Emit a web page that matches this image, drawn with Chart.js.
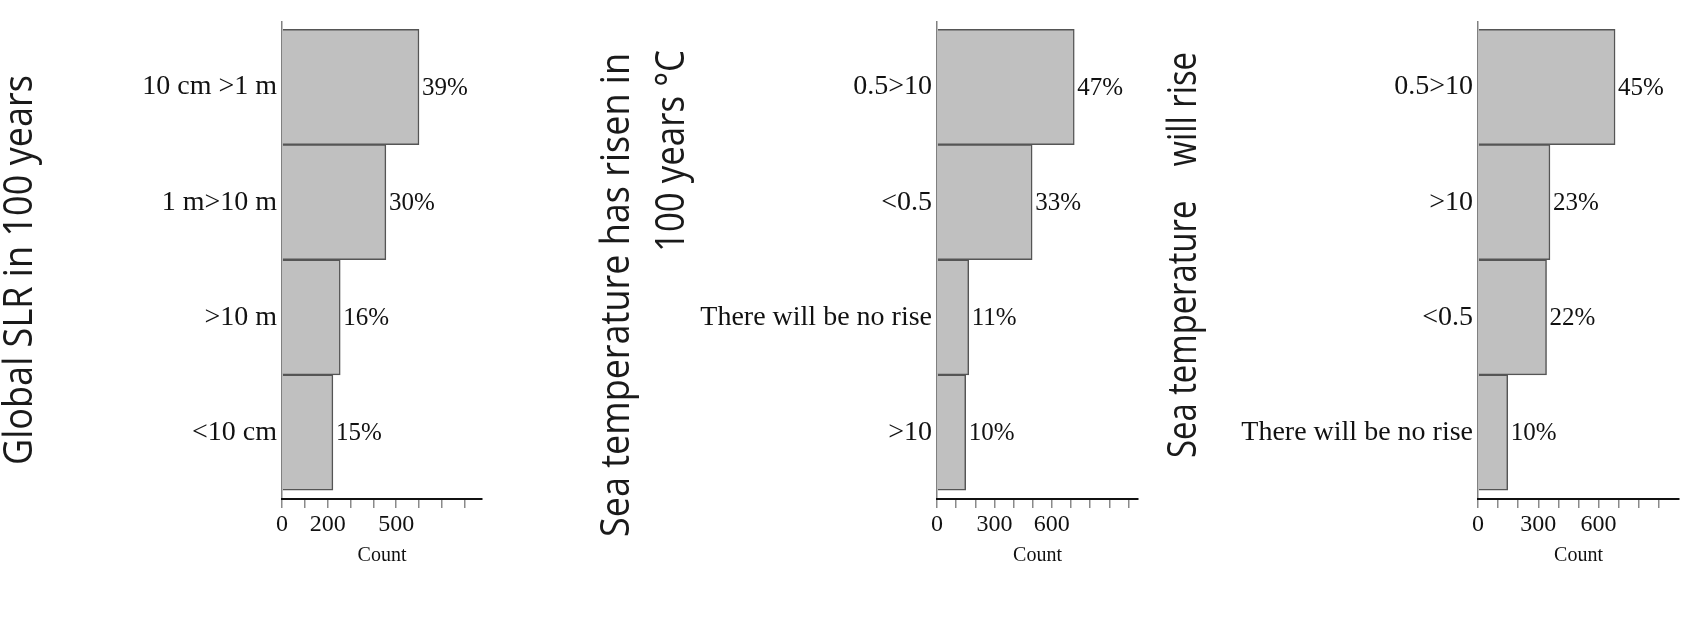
<!DOCTYPE html>
<html>
<head>
<meta charset="utf-8">
<script src="https://cdn.jsdelivr.net/npm/chart.js@4.4.1/dist/chart.umd.min.js"></script>
<style>
  html, body { margin: 0; padding: 0; background: #fff; }
  #wrap { position: relative; width: 1696px; height: 635px; }
  #wrap canvas { position: absolute; top: 0; }
</style>
</head>
<body>
<div id="wrap">
  <canvas id="chart-slr" width="560" height="635" style="left:0px"></canvas>
  <canvas id="chart-risen" width="590" height="635" style="left:560px"></canvas>
  <canvas id="chart-will" width="546" height="635" style="left:1150px"></canvas>
</div>
<script>
// Global SLR in 100 years
const slrCategories = ["10 cm >1 m", "1 m>10 m", ">10 m", "<10 cm"];
const slrCounts = [600, 455, 255, 223];
const slrPercents = [39, 30, 16, 15];
const slrTickLabels = [0, 200, 500];

// Sea temperature has risen in 100 years °C
const risenCategories = ["0.5>10", "<0.5", "There will be no rise", ">10"];
const risenCounts = [717, 497, 166, 150];
const risenPercents = [47, 33, 11, 10];
const risenTickLabels = [0, 300, 600];

// Sea temperature will rise
const willCategories = ["0.5>10", ">10", "<0.5", "There will be no rise"];
const willCounts = [682, 358, 341, 148];
const willPercents = [45, 23, 22, 10];
const willTickLabels = [0, 300, 600];

const serif = "'Liberation Serif', 'Times New Roman', serif";

function makeChart(id, cats, counts, pcts, shownTicks, xMax, box, titles) {
  // percentages next to the bar ends
  const pctLabels = {
    id: 'pctLabels',
    afterDatasetsDraw(chart) {
      const ctx = chart.ctx;
      ctx.save();
      ctx.font = "25px " + serif;
      ctx.fillStyle = "#111";
      ctx.textBaseline = "middle";
      chart.getDatasetMeta(0).data.forEach((bar, i) => {
        ctx.fillText(pcts[i] + "%", bar.x + 3, bar.y + 1);
      });
      ctx.restore();
    }
  };

  // big rotated titles on the left, squeezed along the text
  const sideTitle = {
    id: 'sideTitle',
    afterDraw(chart) {
      const ctx = chart.ctx;
      ctx.save();
      ctx.font = "40px 'Open Sans', sans-serif";
      ctx.fillStyle = "#1a1a1a";
      ctx.textBaseline = "alphabetic";
      titles.forEach(t => {
        const w = ctx.measureText(t.text).width;
        ctx.save();
        ctx.translate(t.x, t.y0);
        ctx.rotate(-Math.PI / 2);
        ctx.scale((t.y0 - t.y1) / w, 1);
        ctx.fillText(t.text, 0, 0);
        ctx.restore();
      });
      ctx.restore();
    }
  };

  return new Chart(document.getElementById(id), {
    type: 'bar',
    data: {
      datasets: [{
        data: counts.map((v, i) => ({ x: v, y: i })),
        backgroundColor: "#c0c0c0",
        borderColor: "#555",
        borderWidth: 1.5,
        barPercentage: 1,
        categoryPercentage: 1
      }]
    },
    options: {
      indexAxis: 'y',
      responsive: false,
      animation: false,
      layout: { padding: { top: 15, right: box.right, left: 0, bottom: 0 } },
      plugins: { legend: { display: false }, tooltip: { enabled: false } },
      scales: {
        y: {
          type: 'linear',
          reverse: true,
          offset: false,
          min: -0.566,
          max: 3.577,
          afterBuildTicks: s => { s.ticks = cats.map((c, i) => ({ value: i })); },
          afterFit: s => { s.width = box.axisX; },
          grid: { display: false, drawTicks: false, offset: false },
          border: { color: "#808080", width: 1.5 },
          ticks: {
            padding: 5,
            color: "#111",
            font: { family: serif, size: 28 },
            callback: v => cats[v]
          }
        },
        x: {
          type: 'linear',
          min: 0,
          max: xMax,
          // the axis line runs past the last tick mark
          afterBuildTicks: s => { s.ticks = s.ticks.filter(t => t.value < s.max); },
          afterFit: s => { s.height = 635 - 499; },
          grid: { drawOnChartArea: false, tickLength: 9, color: "#8a8a8a", lineWidth: 1.5 },
          border: { color: "#111", width: 2 },
          ticks: {
            stepSize: 100,
            includeBounds: false,
            autoSkip: false,
            maxRotation: 0,
            padding: 2,
            color: "#111",
            font: { family: serif, size: 24 },
            callback: v => shownTicks.includes(Math.round(v)) ? String(Math.round(v)) : ""
          },
          title: {
            display: true,
            text: "Count",
            color: "#111",
            font: { family: serif, size: 20 },
            padding: { top: 0, bottom: 67 }
          }
        }
      }
    },
    plugins: [pctLabels, sideTitle]
  });
}

makeChart("chart-slr", slrCategories, slrCounts, slrPercents, slrTickLabels, 876,
  { axisX: 282, right: 78 },
  [{ text: "Global SLR in 100 years", x: 32, y0: 465, y1: 75 }]);

makeChart("chart-risen", risenCategories, risenCounts, risenPercents, risenTickLabels, 1050,
  { axisX: 377, right: 12 },
  [{ text: "Sea temperature has risen in", x: 69, y0: 537, y1: 53 },
   { text: "100 years °C", x: 124, y0: 252, y1: 50 }]);

makeChart("chart-will", willCategories, willCounts, willPercents, willTickLabels, 1000,
  { axisX: 328, right: 17 },
  [{ text: "Sea temperature    will rise", x: 46, y0: 458, y1: 52 }]);
</script>
</body>
</html>
